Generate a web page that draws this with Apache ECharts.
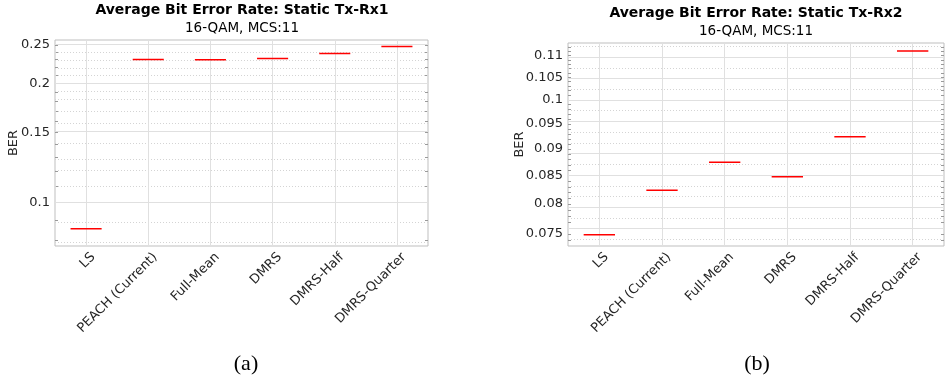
<!DOCTYPE html>
<html>
<head>
<meta charset="utf-8">
<script src="https://cdn.jsdelivr.net/npm/echarts@6/dist/echarts.min.js"></script>
<style>html,body{margin:0;padding:0;background:#fff;}#chart{width:946px;height:383px;}</style>
</head>
<body>
<div id="chart"></div>
<script>
// ---- data ----
const categories = ['LS', 'PEACH (Current)', 'Full-Mean', 'DMRS', 'DMRS-Half', 'DMRS-Quarter'];
const berRx1 = [0.0857, 0.2297, 0.2295, 0.2311, 0.2378, 0.2477];
const berRx2 = [0.0749, 0.0824, 0.0875, 0.0848, 0.0924, 0.1111];
const ticksRx1 = [0.1, 0.15, 0.2, 0.25];
const tickLabelsRx1 = ['0.1', '0.15', '0.2', '0.25'];
const ticksRx2 = [0.075, 0.08, 0.085, 0.09, 0.095, 0.1, 0.105, 0.11];
const tickLabelsRx2 = ['0.075', '0.08', '0.085', '0.09', '0.095', '0.1', '0.105', '0.11'];
const minorRx1 = [0.08, 0.09, 0.11, 0.12, 0.13, 0.14, 0.16, 0.17, 0.18, 0.19, 0.21, 0.22, 0.23, 0.24];
const minorRx2 = [0.074, 0.076, 0.077, 0.078, 0.079, 0.081, 0.082, 0.083, 0.084, 0.086, 0.087, 0.088, 0.089,
  0.091, 0.092, 0.093, 0.094, 0.096, 0.097, 0.098, 0.099, 0.101, 0.102, 0.103, 0.104,
  0.106, 0.107, 0.108, 0.109, 0.111, 0.112];
const rangeRx1 = [0.0775, 0.2573];
const rangeRx2 = [0.0731, 0.1130];

const L = Math.log10;
const FONT = 'DejaVu Sans';
const tickColor = '#262626';

function yAx(gridIndex, range, ticks, minor, labels, pos, showLabels) {
  return {
    type: 'value', gridIndex, position: pos,
    min: L(range[0]), max: L(range[1]),
    name: showLabels ? 'BER' : '', nameLocation: 'middle',
    nameGap: gridIndex === 0 ? 35 : 42,
    nameMoveOverlap: false,
    nameTextStyle: { fontFamily: FONT, fontSize: 13, color: tickColor },
    axisLine: { show: false },
    axisTick: { show: true, inside: true, length: 3, customValues: ticks.concat(minor).map(L), lineStyle: { color: '#9a9a9a' } },
    axisLabel: {
      show: showLabels, customValues: ticks.map(L), fontFamily: FONT, fontSize: 13, color: tickColor, margin: 5,
      formatter: function (v) {
        let best = 0, d = 1e9;
        ticks.forEach((t, i) => { const dd = Math.abs(L(t) - v); if (dd < d) { d = dd; best = i; } });
        return labels[best];
      }
    },
    splitLine: { show: false }
  };
}

function xAx(gridIndex) {
  return {
    type: 'category', gridIndex, data: categories,
    axisLine: { show: false },
    axisTick: { show: true, inside: true, length: 3, alignWithLabel: true, lineStyle: { color: '#9a9a9a' } },
    axisLabel: { rotate: 45, fontFamily: FONT, fontSize: 13, color: tickColor, margin: 2, interval: 0,
      verticalAlign: 'top', lineHeight: 20 },
    splitLine: { show: false }
  };
}

function gridLines(ticks, minor) {
  const d = [];
  minor.forEach(m => d.push({ yAxis: L(m), lineStyle: { color: '#d4d4d4', type: [1, 2], width: 1 } }));
  ticks.forEach(t => d.push({ yAxis: L(t), lineStyle: { color: '#e0e0e0', type: 'solid', width: 1 } }));
  categories.forEach(c => d.push({ xAxis: c, lineStyle: { color: '#e0e0e0', type: 'solid', width: 1 } }));
  return d;
}

function bgSeries(idx, ticks, minor) {
  return {
    type: 'line', xAxisIndex: idx, yAxisIndex: idx * 2, data: [], silent: true, z: 1,
    markLine: { silent: true, symbol: 'none', animation: false, label: { show: false }, data: gridLines(ticks, minor) }
  };
}

function boxSeries(idx, vals) {
  return {
    type: 'boxplot', xAxisIndex: idx, yAxisIndex: idx * 2, z: 5,
    boxWidth: ['50%', '50%'],
    itemStyle: { color: 'rgba(0,0,0,0)', borderColor: '#ff0000', borderWidth: 1.5 },
    data: vals.map(v => { const l = L(v); return [l, l, l, l, l]; }),
    animation: false
  };
}

const chart = echarts.init(document.getElementById('chart'), null, { renderer: 'canvas' });
chart.setOption({
  animation: false,
  backgroundColor: '#ffffff',
  title: [
    { text: 'Average Bit Error Rate: Static Tx-Rx1', subtext: '16-QAM, MCS:11', left: 242, top: 3, textAlign: 'center',
      itemGap: 4, padding: 0,
      textStyle: { fontFamily: FONT, fontSize: 14, fontWeight: 'bold', color: '#000' },
      subtextStyle: { fontFamily: FONT, fontSize: 13.5, color: '#000' } },
    { text: 'Average Bit Error Rate: Static Tx-Rx2', subtext: '16-QAM, MCS:11', left: 756, top: 6, textAlign: 'center',
      itemGap: 4, padding: 0,
      textStyle: { fontFamily: FONT, fontSize: 14, fontWeight: 'bold', color: '#000' },
      subtextStyle: { fontFamily: FONT, fontSize: 13.5, color: '#000' } },
    { text: '(a)', left: 246, top: 353, textAlign: 'center', padding: 0,
      textStyle: { fontFamily: 'Liberation Serif', fontSize: 22, fontWeight: 'normal', color: '#000' } },
    { text: '(b)', left: 757, top: 353, textAlign: 'center', padding: 0,
      textStyle: { fontFamily: 'Liberation Serif', fontSize: 22, fontWeight: 'normal', color: '#000' } }
  ],
  grid: [
    { left: 55, top: 40, width: 373, height: 206, show: true, borderColor: '#bfbfbf', borderWidth: 1, backgroundColor: '#fff' },
    { left: 568, top: 43, width: 376, height: 203, show: true, borderColor: '#bfbfbf', borderWidth: 1, backgroundColor: '#fff' }
  ],
  xAxis: [xAx(0), xAx(1)],
  yAxis: [
    yAx(0, rangeRx1, ticksRx1, minorRx1, tickLabelsRx1, 'left', true),
    yAx(0, rangeRx1, ticksRx1, minorRx1, tickLabelsRx1, 'right', false),
    yAx(1, rangeRx2, ticksRx2, minorRx2, tickLabelsRx2, 'left', true),
    yAx(1, rangeRx2, ticksRx2, minorRx2, tickLabelsRx2, 'right', false)
  ],
  series: [
    bgSeries(0, ticksRx1, minorRx1),
    bgSeries(1, ticksRx2, minorRx2),
    boxSeries(0, berRx1),
    boxSeries(1, berRx2)
  ]
});
</script>
</body>
</html>
